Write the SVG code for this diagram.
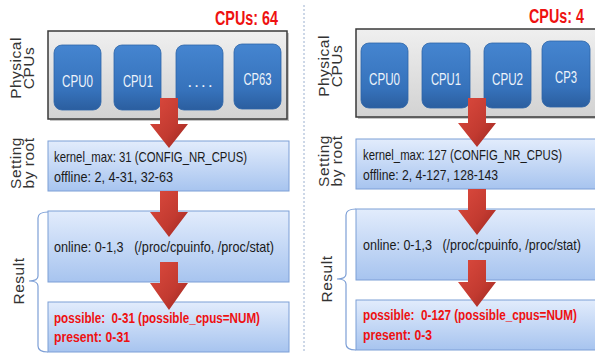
<svg xmlns="http://www.w3.org/2000/svg" width="595" height="353" viewBox="0 0 595 353">
<defs>
<linearGradient id="gGray" x1="0" y1="0" x2="0" y2="1"><stop offset="0" stop-color="#efefef"/><stop offset="1" stop-color="#d2d2d2"/></linearGradient>
<linearGradient id="gBlue" x1="0" y1="0" x2="0" y2="1"><stop offset="0" stop-color="#4585d0"/><stop offset="0.7" stop-color="#3672bb"/><stop offset="1" stop-color="#2b5e9f"/></linearGradient>
<linearGradient id="gBox" x1="0" y1="0" x2="0" y2="1"><stop offset="0" stop-color="#e2ecfc"/><stop offset="1" stop-color="#a7c4ef"/></linearGradient>
<linearGradient id="gArrow" x1="0" y1="0" x2="1" y2="1"><stop offset="0" stop-color="#dc4a3e"/><stop offset="0.6" stop-color="#c23a30"/><stop offset="1" stop-color="#9a2620"/></linearGradient>
</defs>
<style>
.gray{fill:url(#gGray);stroke:#3a3a3a;stroke-width:1.5}
.shadow{fill:#a0a0a0;opacity:0.6}
.cpu{fill:url(#gBlue);stroke:#2f66a8;stroke-width:0.8}
.cput{font-family:"Liberation Sans",Arial,sans-serif;font-size:16.5px;fill:#eef4fb;text-anchor:middle}
.box{fill:url(#gBox);stroke:#7d9fd6;stroke-width:1}
.bt{font-family:"Liberation Sans",Arial,sans-serif;font-size:14.5px;fill:#1a1a1a}
.rt{font-family:"Liberation Sans",Arial,sans-serif;font-size:14.5px;font-weight:bold;fill:#ee1111}
.big{font-family:"Liberation Sans",Arial,sans-serif;font-size:20px;font-weight:bold;fill:#ee1111;text-anchor:end}
.lab{font-family:"Liberation Sans",Arial,sans-serif;font-size:15.5px;letter-spacing:0.5px;fill:#333;text-anchor:middle}
.brace{fill:none;stroke:#7d9fd6;stroke-width:1.2}
.arrow{fill:url(#gArrow)}
.sep{stroke:#9bb0d0;stroke-width:1;stroke-dasharray:2 2}
</style>

<line class="sep" x1="304" y1="5" x2="304" y2="353"/>

<!-- LEFT PANEL -->
<g id="left-title"><text class="big" x="278" y="25" textLength="63" lengthAdjust="spacingAndGlyphs">CPUs: 64</text></g>
<g id="left-labels">
<text class="lab" transform="translate(21,68) rotate(-90)">Physical</text>
<text class="lab" transform="translate(34,68) rotate(-90)">CPUs</text>
<text class="lab" transform="translate(21,163) rotate(-90)">Setting</text>
<text class="lab" transform="translate(34,163) rotate(-90)">by root</text>
<text class="lab" transform="translate(24,281) rotate(-90)">Result</text>
<path class="brace" d="M48,212 Q38,212 38,218 L38,276 Q38,281 29,281 Q38,281 38,286 L38,346 Q38,352 48,352"/>
</g>
<g id="left-physical">
<rect class="shadow" x="50" y="33" width="239" height="88"/>
<rect class="gray" x="48" y="31" width="239" height="88"/>
</g>
<g id="left-cpu0"><rect class="cpu" x="54" y="45" width="47" height="65" rx="8"/><text class="cput" x="77.5" y="87" textLength="31" lengthAdjust="spacingAndGlyphs">CPU0</text></g>
<g id="left-cpu1"><rect class="cpu" x="114" y="45" width="47" height="65" rx="8"/><text class="cput" x="138" y="87" textLength="30" lengthAdjust="spacingAndGlyphs">CPU1</text></g>
<g id="left-cpudots"><rect class="cpu" x="176" y="45" width="47" height="65" rx="8"/><text class="cput" x="200" y="87" textLength="25" lengthAdjust="spacing">....</text></g>
<g id="left-cp63"><rect class="cpu" x="234" y="44" width="47" height="65" rx="8"/><text class="cput" x="257.5" y="85" textLength="28" lengthAdjust="spacingAndGlyphs">CP63</text></g>
<g id="left-setting">
<rect class="box" x="48" y="141" width="241" height="50"/>
<text class="bt" x="54" y="162" textLength="193" lengthAdjust="spacingAndGlyphs">kernel_max: 31 (CONFIG_NR_CPUS)</text>
<text class="bt" x="54" y="182" textLength="119" lengthAdjust="spacingAndGlyphs">offline: 2, 4-31, 32-63</text>
</g>
<g id="left-online">
<rect class="box" x="48" y="211" width="241" height="71"/>
<text class="bt" x="54" y="252" textLength="220" lengthAdjust="spacingAndGlyphs" xml:space="preserve">online: 0-1,3   (/proc/cpuinfo, /proc/stat)</text>
</g>
<g id="left-result">
<rect class="box" x="48" y="302" width="241" height="50"/>
<text class="rt" x="54" y="323" textLength="206" lengthAdjust="spacingAndGlyphs" xml:space="preserve">possible:  0-31 (possible_cpus=NUM)</text>
<text class="rt" x="54" y="342" textLength="76" lengthAdjust="spacingAndGlyphs">present: 0-31</text>
</g>

<!-- RIGHT PANEL -->
<g id="right-title"><text class="big" x="584" y="23" textLength="55" lengthAdjust="spacingAndGlyphs">CPUs: 4</text></g>
<g id="right-labels">
<text class="lab" transform="translate(329,66) rotate(-90)">Physical</text>
<text class="lab" transform="translate(342,66) rotate(-90)">CPUs</text>
<text class="lab" transform="translate(329,161) rotate(-90)">Setting</text>
<text class="lab" transform="translate(342,161) rotate(-90)">by root</text>
<text class="lab" transform="translate(332,279) rotate(-90)">Result</text>
<path class="brace" d="M356,209 Q346,209 346,215 L346,274 Q346,279 337,279 Q346,279 346,284 L346,344 Q346,350 356,350"/>
</g>
<g id="right-physical">
<rect class="shadow" x="358" y="31" width="245" height="88"/>
<rect class="gray" x="356" y="29" width="245" height="88"/>
</g>
<g id="right-cpu0"><rect class="cpu" x="361" y="43" width="47" height="65" rx="8"/><text class="cput" x="384.5" y="85" textLength="31" lengthAdjust="spacingAndGlyphs">CPU0</text></g>
<g id="right-cpu1"><rect class="cpu" x="422" y="43" width="48" height="65" rx="8"/><text class="cput" x="446" y="85" textLength="30" lengthAdjust="spacingAndGlyphs">CPU1</text></g>
<g id="right-cpu2"><rect class="cpu" x="484" y="43" width="47" height="65" rx="8"/><text class="cput" x="507.5" y="85" textLength="31" lengthAdjust="spacingAndGlyphs">CPU2</text></g>
<g id="right-cp3"><rect class="cpu" x="542" y="41" width="48" height="66" rx="8"/><text class="cput" x="566" y="83" textLength="22" lengthAdjust="spacingAndGlyphs">CP3</text></g>
<g id="right-setting">
<rect class="box" x="356" y="139" width="245" height="50"/>
<text class="bt" x="363" y="160" textLength="199" lengthAdjust="spacingAndGlyphs">kernel_max: 127 (CONFIG_NR_CPUS)</text>
<text class="bt" x="363" y="180" textLength="135" lengthAdjust="spacingAndGlyphs">offline: 2, 4-127, 128-143</text>
</g>
<g id="right-online">
<rect class="box" x="356" y="209" width="245" height="71"/>
<text class="bt" x="363" y="250" textLength="218" lengthAdjust="spacingAndGlyphs" xml:space="preserve">online: 0-1,3   (/proc/cpuinfo, /proc/stat)</text>
</g>
<g id="right-result">
<rect class="box" x="356" y="300" width="245" height="50"/>
<text class="rt" x="363" y="320" textLength="214" lengthAdjust="spacingAndGlyphs" xml:space="preserve">possible:  0-127 (possible_cpus=NUM)</text>
<text class="rt" x="363" y="340" textLength="69" lengthAdjust="spacingAndGlyphs">present: 0-3</text>
</g>

<!-- CONNECTORS -->
<g id="connectors">
<path class="arrow" d="M160,98 H178 V124 H188 L169,148 L150,124 H160 Z"/>
<path class="arrow" d="M160,191 H178 V212 H188 L169,237 L150,212 H160 Z"/>
<path class="arrow" d="M160,262 H178 V283 H188 L169,310 L150,283 H160 Z"/>
<path class="arrow" d="M468,98 H486 V123 H496 L477,147 L458,123 H468 Z"/>
<path class="arrow" d="M468,189 H486 V210 H496 L477,235 L458,210 H468 Z"/>
<path class="arrow" d="M468,260 H486 V282 H496 L477,307 L458,282 H468 Z"/>
</g>
</svg>
